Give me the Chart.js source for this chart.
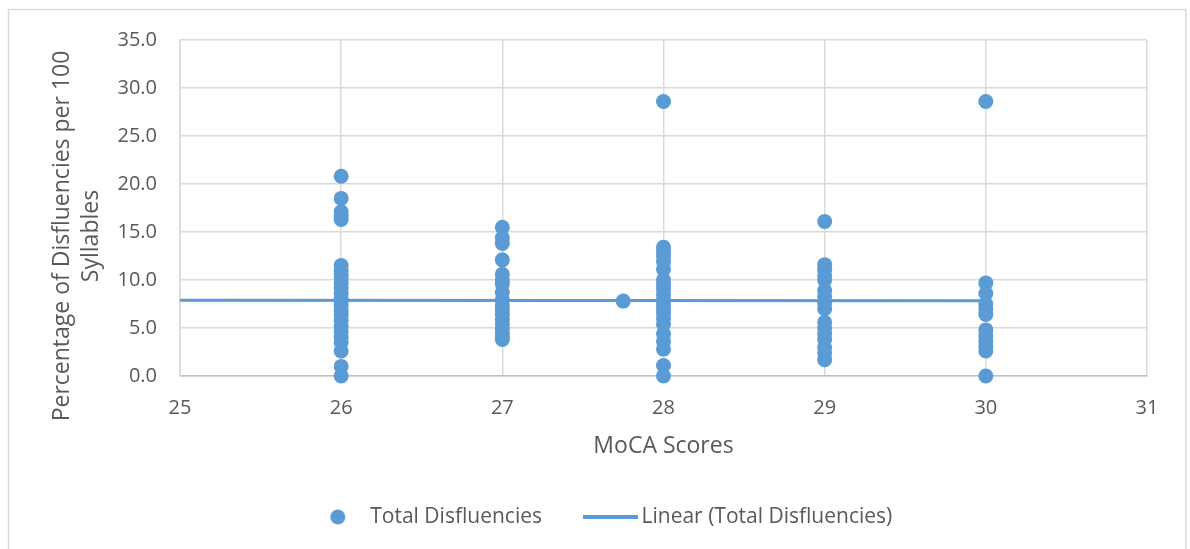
<!DOCTYPE html>
<html>
<head>
<meta charset="utf-8">
<script src="https://cdn.jsdelivr.net/npm/chart.js@4.4.1/dist/chart.umd.min.js"></script>
<style>
  html, body { margin: 0; padding: 0; background: #ffffff; }
  canvas { display: block; }
</style>
</head>
<body>
<canvas id="myChart" width="1190" height="549"></canvas>
<script>
// MoCA score columns and disfluency values
const moca26 = [20.8, 18.5, 17.1, 16.7, 16.3, 11.5, 11.0, 10.6, 10.2, 9.7, 9.2, 8.6, 8.1, 7.7, 7.3, 6.8, 6.3, 5.8, 5.2, 4.6, 4.0, 3.5, 2.6, 1.0, 0.0];
const moca27 = [15.5, 14.4, 13.8, 12.1, 10.6, 10.0, 9.6, 8.7, 8.0, 7.4, 6.9, 6.4, 5.9, 5.4, 4.9, 4.4, 4.0, 3.8];
const moca28 = [28.6, 13.4, 13.0, 12.5, 11.9, 11.1, 10.0, 9.5, 9.0, 8.5, 8.0, 7.5, 7.0, 6.5, 6.0, 5.4, 4.4, 3.6, 2.8, 1.1, 0.0];
const moca29 = [16.1, 11.6, 11.1, 10.5, 10.0, 8.9, 8.3, 7.6, 7.0, 5.6, 5.0, 4.4, 3.8, 3.0, 2.4, 1.7];
const moca30 = [28.6, 9.7, 8.6, 7.5, 7.0, 6.4, 4.8, 4.2, 3.6, 3.1, 2.6, 0.0];
const extraX = [27.75];
const extraY = [7.8];

// linear trend line ends
const trendX = [25, 30];
const trendY = [7.9, 7.84];

const yTickLabels = ['0.0', '5.0', '10.0', '15.0', '20.0', '25.0', '30.0', '35.0'];
const xTickLabels = ['25', '26', '27', '28', '29', '30', '31'];

const seriesName = 'Total Disfluencies';
const trendName = 'Linear (Total Disfluencies)';
const yTitle = ['Percentage of Disfluencies per 100', 'Syllables'];
const xTitle = 'MoCA Scores';

var blue = '#5b9bd5';
var grey = '#595959';
var gridColor = '#d9d9d9';

function column(x, values) {
  return values.map(v => ({ x: x, y: v }));
}
const points = [].concat(
  column(26, moca26), column(27, moca27), column(28, moca28),
  column(29, moca29), column(30, moca30),
  extraX.map((x, i) => ({ x: x, y: extraY[i] }))
);
const trend = trendX.map((x, i) => ({ x: x, y: trendY[i] }));

// little pictures for the legend markers
var dotImg = document.createElement('canvas');
dotImg.width = 50; dotImg.height = 16;
var dctx = dotImg.getContext('2d');
dctx.fillStyle = blue;
dctx.beginPath();
dctx.arc(28, 8, 7.5, 0, Math.PI * 2);
dctx.fill();

var lineImg = document.createElement('canvas');
lineImg.width = 66; lineImg.height = 4;
var lctx = lineImg.getContext('2d');
lctx.fillStyle = blue;
lctx.fillRect(10, 0, 55, 4);

const frameAndTitle = {
  id: 'frameAndTitle',
  beforeDraw(chart) {
    const ctx = chart.ctx;
    ctx.save();
    ctx.fillStyle = '#ffffff';
    ctx.fillRect(0, 0, chart.width, chart.height);
    ctx.strokeStyle = gridColor;
    ctx.lineWidth = 1.5;
    ctx.strokeRect(8.5, 9.5, 1177.5, 545);
    ctx.restore();
  },
  afterDraw(chart) {
    const ctx = chart.ctx;
    ctx.save();
    ctx.fillStyle = grey;
    ctx.font = "23px 'Open Sans'";
    ctx.textAlign = 'center';
    ctx.textBaseline = 'middle';
    yTitle.forEach((line, i) => {
      ctx.save();
      ctx.translate(62 + i * 29, 236);
      ctx.rotate(-Math.PI / 2);
      ctx.fillText(line, 0, 0);
      ctx.restore();
    });
    ctx.restore();
  }
};

Chart.defaults.font.family = "'Open Sans', sans-serif";
Chart.defaults.color = grey;

const config = {
  type: 'scatter',
  data: {
    datasets: [
      {
        label: seriesName,
        data: points,
        backgroundColor: blue,
        borderColor: blue,
        pointRadius: 7.5,
        pointHoverRadius: 7.5,
        borderWidth: 0,
        clip: false,
      },
      {
        type: 'line',
        label: trendName,
        data: trend,
        borderColor: blue,
        backgroundColor: blue,
        borderWidth: 3,
        pointRadius: 0,
        showLine: true,
        fill: false,
      },
    ],
  },
  plugins: [frameAndTitle],
  options: {
    responsive: false,
    animation: false,
    devicePixelRatio: 1,
    layout: {
      padding: { left: 55, right: 43, top: 40, bottom: 11.5 },
    },
    plugins: {
      tooltip: { enabled: false },
      legend: {
        position: 'bottom',
        labels: {
          usePointStyle: true,
          pointStyleWidth: 50,
          padding: 39,
          color: grey,
          font: { size: 21 },
          generateLabels(chart) {
            const items = Chart.defaults.plugins.legend.labels.generateLabels(chart);
            items.forEach((it, i) => { it.pointStyle = i === 0 ? dotImg : lineImg; });
            return items;
          },
        },
      },
    },
    scales: {
      x: {
        type: 'linear',
        min: 25,
        max: 31,
        afterFit(scale) { scale.height = 91.5; },
        ticks: {
          stepSize: 1,
          padding: 20,
          font: { size: 20 },
          color: grey,
          callback: (v) => xTickLabels[xTickLabels.indexOf(String(v))],
        },
        grid: { color: gridColor, lineWidth: 1.5, drawTicks: false },
        border: { color: '#bfbfbf', width: 1.5 },
        title: {
          display: true,
          text: xTitle,
          color: grey,
          font: { size: 23, lineHeight: 1.0 },
          padding: { top: 0, bottom: 10 },
        },
      },
      y: {
        min: 0,
        max: 35,
        afterFit(scale) { scale.width = 125; },
        ticks: {
          stepSize: 5,
          padding: 23,
          font: { size: 20 },
          color: grey,
          callback: (v) => yTickLabels[v / 5],
        },
        grid: { color: gridColor, lineWidth: 1.5, drawTicks: false },
        border: { color: gridColor, width: 1.5 },
      },
    },
  },
};

var myChart = new Chart(document.getElementById('myChart'), config);
</script>
</body>
</html>
